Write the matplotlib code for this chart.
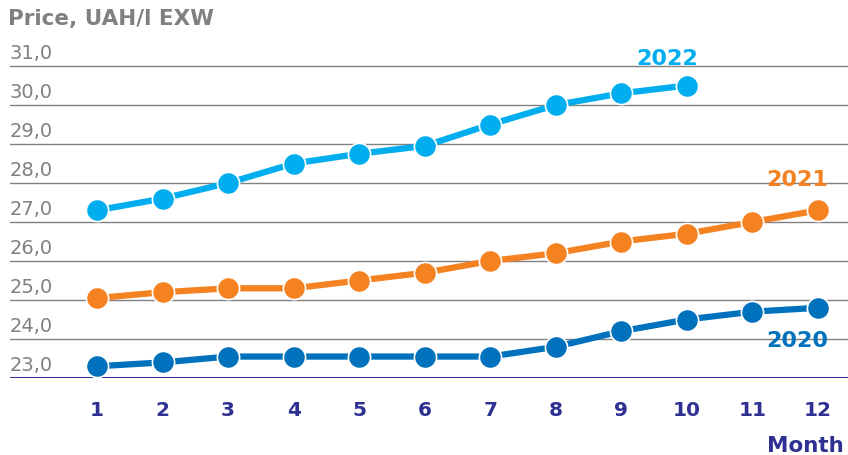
import matplotlib.pyplot as plt

plt.rcParams['font.family'] = ['DejaVu Sans']

months = list(range(1, 13))
price_2020 = [23.3, 23.4, 23.55, 23.55, 23.55, 23.55, 23.55, 23.8, 24.2, 24.5, 24.7, 24.8]
price_2021 = [25.05, 25.2, 25.3, 25.3, 25.5, 25.7, 26.0, 26.2, 26.5, 26.7, 27.0, 27.3]
price_2022 = [27.3, 27.6, 28.0, 28.5, 28.75, 28.95, 29.5, 30.0, 30.3, 30.5]
yticks = [23, 24, 25, 26, 27, 28, 29, 30, 31]

c20 = '#0071BC'
c21 = '#F58220'
c22 = '#00AEEF'
navy = '#2E3192'
grey = '#808080'

fig = plt.figure(figsize=(8.48, 4.56), dpi=100)
ax = fig.add_axes([10/848, 77/456, 838/848, 331.5/456])
ax.set_xlim(-0.328, 12.458)
ax.set_ylim(23, 31.5)
ax.axis('off')

# grid lines and labels
for v in yticks:
    if v == 23:
        ax.axhline(v, color=navy, lw=2.2, zorder=2)
    else:
        ax.axhline(v, color=grey, lw=1, zorder=1)
    ax.text(-0.328, v + 0.1, ('%.1f' % v).replace('.', ','), color=grey,
            fontsize=14, ha='left', va='bottom')

for m in months:
    ax.text(m, 22.2, str(m), color=navy, fontsize=14.5, fontweight='bold',
            ha='center', va='center', clip_on=False)

mk = dict(marker='o', markersize=16, markeredgecolor='white', markeredgewidth=1.2,
          lw=4.5, zorder=3, solid_capstyle='round')
ax.plot(months, price_2020, color=c20, **mk)
ax.plot(months, price_2021, color=c21, **mk)
ax.plot(months[:len(price_2022)], price_2022, color=c22, **mk)

ax.text(11.69, 23.97, '2020', color=c20, fontsize=16, fontweight='bold', ha='center', va='center')
ax.text(11.69, 28.1, '2021', color=c21, fontsize=16, fontweight='bold', ha='center', va='center')
ax.text(9.70, 31.2, '2022', color=c22, fontsize=16, fontweight='bold', ha='center', va='center')

fig.text(8/848, 1 - 19/456, 'Price, UAH/l EXW', color=grey, fontsize=15.5,
         fontweight='bold', ha='left', va='center')
fig.text(844/848, 1 - 446/456, 'Month', color=navy, fontsize=15.5,
         fontweight='bold', ha='right', va='center')

fig.savefig('out.png', dpi=100)
